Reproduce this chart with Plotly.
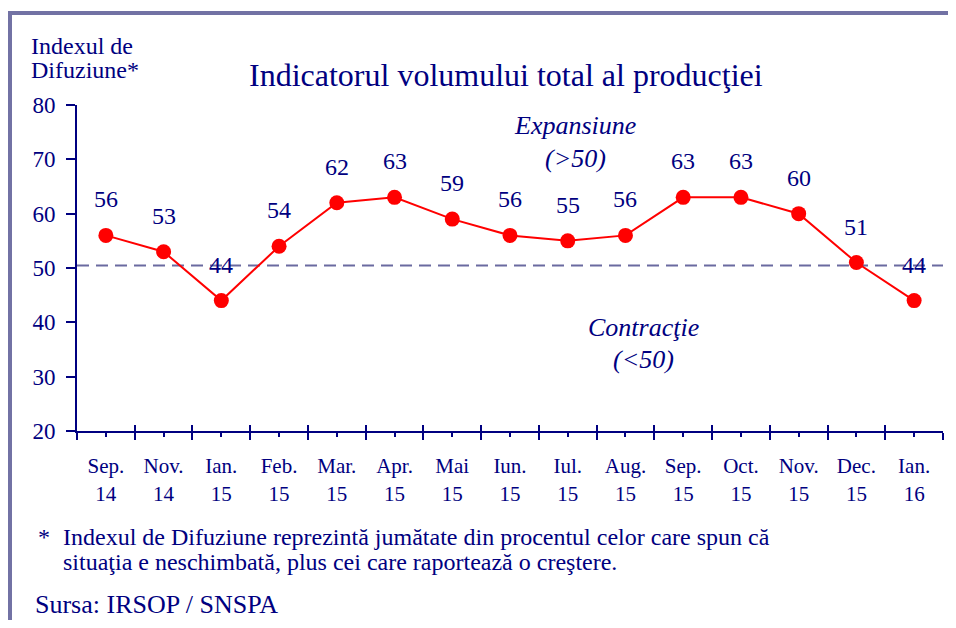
import plotly.graph_objects as go

# ---------------- data ----------------
months = ["Sep.<br>14", "Nov.<br>14", "Ian.<br>15", "Feb.<br>15", "Mar.<br>15", "Apr.<br>15",
          "Mai<br>15", "Iun.<br>15", "Iul.<br>15", "Aug.<br>15", "Sep.<br>15", "Oct.<br>15",
          "Nov.<br>15", "Dec.<br>15", "Ian.<br>16"]
values = [56, 53, 44, 54, 62, 63, 59, 56, 55, 56, 63, 63, 60, 51, 44]
y_ticks = [20, 30, 40, 50, 60, 70, 80]
threshold = 50.45

# ---------------- style ----------------
OFF = 8                      # page body margin
W, H = 956 - 2 * OFF, 628 - 2 * OFF
L, T = 77 - OFF, 105 - OFF
R = W - (943 - OFF)
B = H - (431 - OFF)
NAVY = "#000080"
FRAME = "#7272a4"
FONT = "Liberation Serif"

def px(x):
    return (x - OFF - L) / (W - L - R)

def py(y):
    return 1 - (y - OFF - T) / (H - T - B)

xs = list(range(len(values)))
bounds = [i - 0.5 for i in range(len(values) + 1)]

fig = go.Figure()

# threshold dashed line
fig.add_trace(go.Scatter(
    x=[-0.5, len(values) - 0.5], y=[threshold, threshold], mode="lines",
    line=dict(color="#6a6aa0", width=2, dash="12px,7px"), hoverinfo="skip", showlegend=False))

# main series
fig.add_trace(go.Scatter(
    x=xs, y=values, mode="lines+markers",
    line=dict(color="#ff0000", width=2),
    marker=dict(color="#ff0000", size=15),
    showlegend=False))

# invisible trace for the overlay axis (upward part of boundary ticks)
fig.add_trace(go.Scatter(x=[0], y=[values[0]], xaxis="x2", mode="markers",
                         marker=dict(opacity=0), hoverinfo="skip", showlegend=False))

annotations = []
for x, v in zip(xs, values):
    annotations.append(dict(x=x, y=v, text=str(v), showarrow=False, yshift=36,
                            font=dict(family=FONT, size=24, color=NAVY)))

def txt(text, x, y, size, xanchor="center", italic=False):
    t = f"<i>{text}</i>" if italic else text
    annotations.append(dict(xref="paper", yref="paper", x=px(x), y=py(y), text=t,
                            showarrow=False, xanchor=xanchor, yanchor="middle",
                            font=dict(family=FONT, size=size, color=NAVY)))

txt("Indicatorul volumului total al producţiei", 506, 75, 32)
txt("Indexul de", 29, 46, 24, xanchor="left")
txt("Difuziune*", 29, 70, 24, xanchor="left")
txt("Expansiune", 575, 125, 26, italic=True)
txt("(>50)", 575, 158, 26, italic=True)
txt("Contracţie", 643, 327, 26, italic=True)
txt("(<50)", 643, 359, 26, italic=True)
txt("*", 36, 537, 24, xanchor="left")
txt("Indexul de Difuziune reprezintă jumătate din procentul celor care spun că", 61, 537, 24, xanchor="left")
txt("situaţia e neschimbată, plus cei care raportează o creştere.", 61, 562, 24, xanchor="left")
txt("Sursa: IRSOP / SNSPA", 33, 604, 26, xanchor="left")

right_edge = W + OFF
bottom_edge = H + OFF
shapes = [
    dict(type="line", xref="paper", yref="paper", x0=px(10), x1=px(10), y0=py(13), y1=py(bottom_edge),
         line=dict(color=FRAME, width=4)),
    dict(type="line", xref="paper", yref="paper", x0=px(8), x1=px(right_edge), y0=py(13), y1=py(13),
         line=dict(color=FRAME, width=4)),
]

fig.update_layout(
    width=W, height=H,
    margin=dict(l=L, r=R, t=T, b=B),
    paper_bgcolor="white", plot_bgcolor="white",
    showlegend=False,
    annotations=annotations,
    shapes=shapes,
    xaxis=dict(
        range=[-0.5, len(values) - 0.5], tickmode="array", tickvals=xs, ticktext=months,
        ticks="outside", ticklen=4, tickwidth=2, tickcolor=NAVY,
        minor=dict(tickmode="array", tickvals=bounds, ticks="outside", ticklen=7,
                   tickwidth=2, tickcolor=NAVY, showgrid=False),
        showline=True, linecolor=NAVY, linewidth=2, showgrid=False, zeroline=False,
        tickfont=dict(family=FONT, size=21, color=NAVY), ticklabelstandoff=11,
    ),
    xaxis2=dict(
        overlaying="x", anchor="y", side="bottom", matches="x",
        range=[-0.5, len(values) - 0.5], tickmode="array", tickvals=bounds,
        ticks="inside", ticklen=6, tickwidth=2, tickcolor=NAVY, showticklabels=False,
        showline=False, showgrid=False, zeroline=False,
    ),
    yaxis=dict(
        range=[20, 80], tickmode="array", tickvals=y_ticks,
        ticks="outside", ticklen=9, tickwidth=2, tickcolor=NAVY,
        showline=True, linecolor=NAVY, linewidth=2, showgrid=False, zeroline=False,
        tickfont=dict(family=FONT, size=23, color=NAVY), ticklabelstandoff=6,
    ),
)

fig.write_html("out.html")
